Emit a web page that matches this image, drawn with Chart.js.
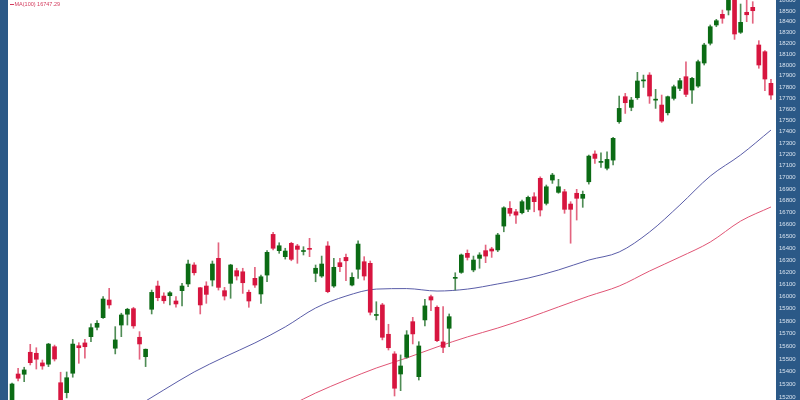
<!DOCTYPE html>
<html>
<head>
<meta charset="utf-8">
<script src="https://cdn.jsdelivr.net/npm/chart.js@4.4.1/dist/chart.umd.min.js"></script>
<style>
  html, body { margin: 0; padding: 0; background: #fff; }
  #wrap { width: 800px; height: 400px; }
</style>
</head>
<body>
<div id="wrap"><canvas id="chart"></canvas></div>
<script>
// Daily candles, oldest first
const opens = [15160,15381,15379,15552,15544,15468,15458,15596,15313,15236,15387,15604,15626,15676,15751,15828,15971,15584,15769,15856,
  15901,15671,15517,15896,16085,16003,16006,15963,16047,16102,16258,16071,16085,16134,16313,16047,16107,16211,16202,16034,
  16148,16020,16175,16513,16377,16327,16438,16416,16370,16390,16189,16167,16416,16085,16277,16321,16093,16223,16285,16272,
  15846,15931,15695,15539,15381,15513,15796,15360,15810,15998,15912,15634,15743,16148,16197,16355,16217,16313,16377,16391,
  16383,16583,16733,16704,16696,16725,16832,16991,16776,16976,16870,16875,16770,16862,16819,16961,17202,17129,17078,17149,
  17487,17711,17615,17702,17854,17907,17680,17636,17567,17696,17786,17892,17771,17807,18017,18199,18369,18469,18509,18650,
  18301,18488,18535,18183,18121,17832];
const highs = [15310,15426,15434,15615,15588,15491,15623,15609,15395,15397,15654,15628,15654,15778,15804,15998,16066,15756,15864,15904,
  15912,15716,15578,16052,16126,16030,16039,15998,16107,16299,16277,16074,16120,16291,16443,16074,16264,16231,16231,16052,
  16239,16175,16377,16530,16443,16397,16447,16430,16410,16480,16258,16332,16452,16313,16313,16349,16194,16460,16327,16291,
  15957,15944,15775,15557,15531,15724,15831,15636,15977,16011,15923,15917,15858,16194,16349,16383,16332,16360,16424,16405,
  16522,16747,16790,16725,16804,16838,16867,17004,16933,17034,16982,16896,16790,16896,16881,17193,17231,17213,17222,17349,
  17717,17741,17705,17932,17907,17929,17777,17726,17717,17816,17877,18029,17886,18045,18199,18369,18422,18509,18650,18680,
  18566,18620,18588,18223,18131,17868];
const lows = [15140,15327,15321,15452,15420,15418,15439,15483,15140,15195,15356,15465,15505,15636,15730,15823,15904,15539,15676,15769,
  15743,15497,15439,15858,15965,15944,15931,15912,15923,16080,16175,15858,15944,16085,16052,15971,15985,16134,16025,15912,
  16074,15944,16120,16383,16355,16307,16293,16272,16341,16327,16120,16156,16030,16074,16202,16128,16085,16148,16134,15850,
  15810,15650,15570,15210,15251,15505,15618,15334,15762,15885,15636,15549,15596,16052,16189,16299,16202,16231,16277,16321,
  16369,16535,16668,16606,16685,16704,16704,16668,16762,16947,16862,16691,16439,16634,16742,16941,17121,17086,17063,17106,
  17473,17561,17585,17687,17795,17651,17606,17481,17547,17681,17765,17711,17651,17795,17999,18183,18353,18385,18463,18235,
  18290,18400,18385,17969,17765,17687];
const closes = [15303,15348,15413,15470,15497,15444,15617,15499,15170,15352,15617,15588,15596,15748,15783,15979,15931,15650,15850,15896,
  15762,15618,15576,16033,15990,15965,16030,15939,16085,16266,16194,15931,16017,16266,16074,16003,16258,16167,16112,15963,
  16093,16161,16363,16397,16418,16374,16305,16388,16372,16388,16231,16266,16039,16239,16244,16293,16156,16432,16167,15872,
  15850,15671,15588,15270,15444,15690,15698,15602,15923,15971,15644,15591,15836,16152,16341,16321,16299,16341,16332,16374,
  16508,16738,16691,16676,16790,16827,16790,16719,16918,17019,16918,16725,16725,16819,16853,17184,17164,17131,17155,17340,
  17606,17657,17681,17853,17857,17717,17682,17493,17711,17801,17856,17732,17877,18029,18183,18353,18409,18432,18620,18285,
  18394,18465,18503,17999,17871,17726];

// Moving averages, read at a few candles
const ma50Index  = [20, 22, 25, 30, 35, 40, 45, 50, 55, 60, 65, 70, 75, 80, 85, 90, 95, 100, 105, 110, 115, 120, 125];
const ma50Values = [15117,15171,15257,15397,15515,15626,15754,15906,16003,16060,16064,16044,16060,16102,16150,16217,16299,16366,16533,16762,17010,17194,17413];
const ma100Index  = [46, 50, 55, 60, 65, 70, 75, 80, 85, 90, 95, 100, 105, 110, 115, 120, 125];
const ma100Values = [15140,15233,15334,15428,15507,15594,15674,15745,15826,15915,16003,16085,16208,16324,16449,16625,16745];

const yTicks = [15200,15300,15400,15500,15600,15700,15800,15900,16000,16100,16200,16300,16400,16500,16600,16700,16800,
  16900,17000,17100,17200,17300,17400,17500,17600,17700,17800,17900,18000,18100,18200,18300,18400,18500,18600];

const UP = '#0b6b14';
const DOWN = '#d7153f';
const UP_WICK = '#4f8c55';
const DOWN_WICK = '#e3647f';

const labels = opens.map((_, i) => i);
const isUp = opens.map((o, i) => closes[i] >= o);
const ma50 = labels.map(() => null);
ma50Index.forEach((k, j) => { ma50[k] = ma50Values[j]; });
const ma100 = labels.map(() => null);
ma100Index.forEach((k, j) => { ma100[k] = ma100Values[j]; });

const frame = {
    id: 'frame',
    beforeDraw(chart) {
        const { ctx, width, height } = chart;
        ctx.save();
        ctx.fillStyle = '#ffffff';
        ctx.fillRect(0, 0, width, height);
        ctx.fillStyle = '#2b5987';
        ctx.fillRect(0, 0, 8, height);
        ctx.fillRect(776, 0, width - 776, height);
        ctx.restore();
    },
    afterDraw(chart) {
        const ctx = chart.ctx;
        ctx.save();
        ctx.strokeStyle = '#d33a5c';
        ctx.lineWidth = 1;
        ctx.beginPath();
        ctx.moveTo(10, 4.5);
        ctx.lineTo(14, 4.5);
        ctx.stroke();
        ctx.fillStyle = '#d33a5c';
        ctx.font = '5.5px "Liberation Sans"';
        ctx.textBaseline = 'middle';
        ctx.fillText('MA(100) 16747.29', 14.5, 4.5);
        ctx.restore();
    }
};

const ctx = document.getElementById('chart').getContext('2d');
new Chart(ctx, {
    type: 'bar',
    data: {
        labels: labels,
        datasets: [
            {
                type: 'line',
                label: 'MA(50)',
                data: ma50,
                borderColor: '#5a5da8',
                borderWidth: 1,
                pointRadius: 0,
                spanGaps: true,
                cubicInterpolationMode: 'monotone',
                order: 4
            },
            {
                type: 'line',
                label: 'MA(100)',
                data: ma100,
                borderColor: '#e05575',
                borderWidth: 1,
                pointRadius: 0,
                spanGaps: true,
                cubicInterpolationMode: 'monotone',
                order: 3
            },
            {
                label: 'wick',
                data: lows.map((l, i) => [l, highs[i]]),
                backgroundColor: isUp.map(u => u ? UP_WICK : DOWN_WICK),
                barThickness: 1,
                grouped: false,
                clip: 0,
                order: 2
            },
            {
                label: 'body',
                data: opens.map((o, i) => [o, closes[i]]),
                backgroundColor: isUp.map(u => u ? UP : DOWN),
                barThickness: 4,
                minBarLength: 1,
                grouped: false,
                clip: 0,
                order: 1
            }
        ]
    },
    options: {
        responsive: true,
        maintainAspectRatio: false,
        animation: false,
        layout: { padding: { left: 9, right: 0, top: 0, bottom: 0 } },
        plugins: {
            legend: { display: false },
            tooltip: { enabled: false }
        },
        scales: {
            x: {
                type: 'category',
                display: false,
                offset: true,
                grid: { display: false }
            },
            y: {
                type: 'logarithmic',
                position: 'right',
                min: 15179,
                max: 18604,
                grid: { display: false, drawTicks: false },
                border: { display: false },
                afterBuildTicks: (scale) => {
                    scale.ticks = yTicks.map(v => ({ value: v }));
                },
                afterFit: (scale) => {
                    scale.width = 26;
                    scale.paddingTop = 0;
                    scale.paddingBottom = 0;
                },
                ticks: {
                    autoSkip: false,
                    padding: 5,
                    color: '#d6e1ee',
                    font: { family: 'Liberation Sans', size: 6 },
                    callback: (v) => String(v)
                }
            }
        }
    },
    plugins: [frame]
});
</script>
</body>
</html>
